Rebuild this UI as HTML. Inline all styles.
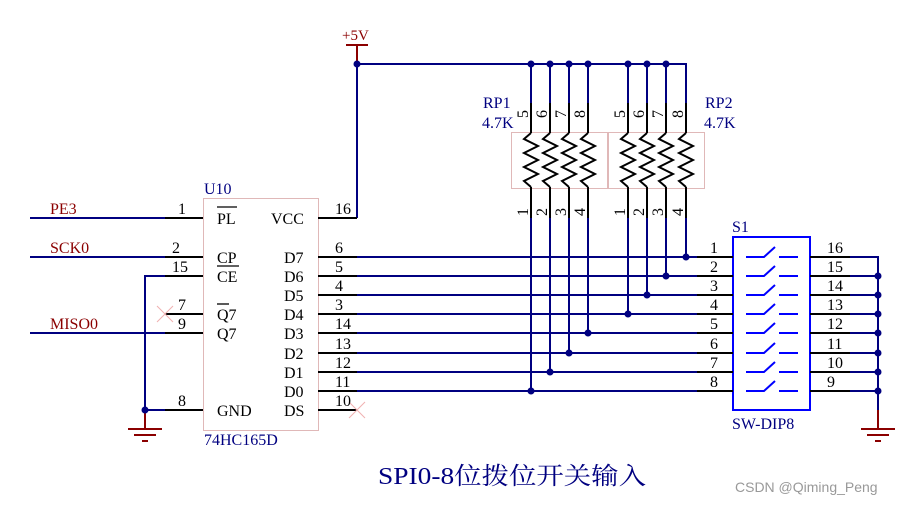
<!DOCTYPE html>
<html><head><meta charset="utf-8"><style>
html,body{margin:0;padding:0;background:#fff;}
svg{display:block;}
text{font-family:"Liberation Serif","Noto Serif CJK SC",serif;}
</style></head><body>
<svg width="911" height="505" viewBox="0 0 911 505" xmlns="http://www.w3.org/2000/svg">
<rect x="203.5" y="198.5" width="115" height="232" fill="none" stroke="#e0b8b8" stroke-width="1"/>
<g stroke="#000080" stroke-width="2" fill="none">
<line x1="30" y1="218" x2="165" y2="218"/>
<line x1="30" y1="257" x2="165" y2="257"/>
<line x1="30" y1="333" x2="165" y2="333"/>
<polyline points="165,276 145,276 145,410 165,410"/>
<polyline points="357,218 357,64 686,64 686,103"/>
</g>
<g stroke="#000" stroke-width="2">
<line x1="165" y1="218" x2="203" y2="218"/>
<line x1="165" y1="257" x2="203" y2="257"/>
<line x1="165" y1="276" x2="203" y2="276"/>
<line x1="165" y1="314" x2="203" y2="314"/>
<line x1="165" y1="333" x2="203" y2="333"/>
<line x1="165" y1="410" x2="203" y2="410"/>
<line x1="318" y1="218" x2="357" y2="218"/>
<line x1="318" y1="257" x2="357" y2="257"/>
<line x1="318" y1="276" x2="357" y2="276"/>
<line x1="318" y1="295" x2="357" y2="295"/>
<line x1="318" y1="314" x2="357" y2="314"/>
<line x1="318" y1="333" x2="357" y2="333"/>
<line x1="318" y1="353" x2="357" y2="353"/>
<line x1="318" y1="372" x2="357" y2="372"/>
<line x1="318" y1="391" x2="357" y2="391"/>
<line x1="318" y1="410" x2="357" y2="410"/>
</g>
<g stroke="#f0b0b0" stroke-width="1"><line x1="157" y1="306" x2="173" y2="322"/><line x1="157" y1="322" x2="173" y2="306"/>
<line x1="349" y1="402" x2="365" y2="418"/><line x1="349" y1="418" x2="365" y2="402"/></g>
<g stroke="#8b0000" stroke-width="2"><line x1="346" y1="45" x2="368" y2="45"/><line x1="357" y1="45" x2="357" y2="64"/>
<line x1="145" y1="410" x2="145" y2="429"/><line x1="128" y1="429" x2="162" y2="429"/><line x1="134" y1="435" x2="156" y2="435"/><line x1="142" y1="441" x2="148" y2="441"/>
<line x1="878" y1="410" x2="878" y2="429"/><line x1="861" y1="429" x2="895" y2="429"/><line x1="867" y1="435" x2="889" y2="435"/><line x1="875" y1="441" x2="881" y2="441"/></g>
<text x="342" y="40" font-size="15" fill="#8b0000">+5V</text>
<g stroke="#000080" stroke-width="2" fill="none">
<line x1="357" y1="257" x2="697" y2="257"/>
<line x1="357" y1="276" x2="697" y2="276"/>
<line x1="357" y1="295" x2="697" y2="295"/>
<line x1="357" y1="314" x2="697" y2="314"/>
<line x1="357" y1="333" x2="697" y2="333"/>
<line x1="357" y1="353" x2="697" y2="353"/>
<line x1="357" y1="372" x2="697" y2="372"/>
<line x1="357" y1="391" x2="697" y2="391"/>
<line x1="531" y1="64" x2="531" y2="103"/><line x1="531" y1="218" x2="531" y2="391"/>
<line x1="550" y1="64" x2="550" y2="103"/><line x1="550" y1="218" x2="550" y2="372"/>
<line x1="569" y1="64" x2="569" y2="103"/><line x1="569" y1="218" x2="569" y2="353"/>
<line x1="588" y1="64" x2="588" y2="103"/><line x1="588" y1="218" x2="588" y2="333"/>
<line x1="628" y1="64" x2="628" y2="103"/><line x1="628" y1="218" x2="628" y2="314"/>
<line x1="647" y1="64" x2="647" y2="103"/><line x1="647" y1="218" x2="647" y2="295"/>
<line x1="666" y1="64" x2="666" y2="103"/><line x1="666" y1="218" x2="666" y2="276"/>
<line x1="686" y1="218" x2="686" y2="257"/>
<polyline points="850,257 878,257 878,410"/>
<line x1="850" y1="276" x2="878" y2="276"/><line x1="850" y1="295" x2="878" y2="295"/>
<line x1="850" y1="314" x2="878" y2="314"/><line x1="850" y1="333" x2="878" y2="333"/>
<line x1="850" y1="353" x2="878" y2="353"/><line x1="850" y1="372" x2="878" y2="372"/>
<line x1="850" y1="391" x2="878" y2="391"/>
</g>
<rect x="511.5" y="132.5" width="96" height="56" fill="none" stroke="#e0b8b8"/>
<rect x="608.5" y="132.5" width="96" height="56" fill="none" stroke="#e0b8b8"/>
<g stroke="#000" stroke-width="2" fill="none">
<g transform="translate(531,0)"><line x1="0" y1="103" x2="0" y2="133"/><polyline points="0,133 -7,139 7,146 -7,153 7,160 -7,167 7,174 -7,181 0,187"/><line x1="0" y1="187" x2="0" y2="218"/></g>
<g transform="translate(550,0)"><line x1="0" y1="103" x2="0" y2="133"/><polyline points="0,133 -7,139 7,146 -7,153 7,160 -7,167 7,174 -7,181 0,187"/><line x1="0" y1="187" x2="0" y2="218"/></g>
<g transform="translate(569,0)"><line x1="0" y1="103" x2="0" y2="133"/><polyline points="0,133 -7,139 7,146 -7,153 7,160 -7,167 7,174 -7,181 0,187"/><line x1="0" y1="187" x2="0" y2="218"/></g>
<g transform="translate(588,0)"><line x1="0" y1="103" x2="0" y2="133"/><polyline points="0,133 -7,139 7,146 -7,153 7,160 -7,167 7,174 -7,181 0,187"/><line x1="0" y1="187" x2="0" y2="218"/></g>
<g transform="translate(628,0)"><line x1="0" y1="103" x2="0" y2="133"/><polyline points="0,133 -7,139 7,146 -7,153 7,160 -7,167 7,174 -7,181 0,187"/><line x1="0" y1="187" x2="0" y2="218"/></g>
<g transform="translate(647,0)"><line x1="0" y1="103" x2="0" y2="133"/><polyline points="0,133 -7,139 7,146 -7,153 7,160 -7,167 7,174 -7,181 0,187"/><line x1="0" y1="187" x2="0" y2="218"/></g>
<g transform="translate(666,0)"><line x1="0" y1="103" x2="0" y2="133"/><polyline points="0,133 -7,139 7,146 -7,153 7,160 -7,167 7,174 -7,181 0,187"/><line x1="0" y1="187" x2="0" y2="218"/></g>
<g transform="translate(686,0)"><line x1="0" y1="103" x2="0" y2="133"/><polyline points="0,133 -7,139 7,146 -7,153 7,160 -7,167 7,174 -7,181 0,187"/><line x1="0" y1="187" x2="0" y2="218"/></g>
</g>
<g font-size="16" fill="#000">
<text transform="translate(528,118) rotate(-90)">5</text><text transform="translate(547,118) rotate(-90)">6</text><text transform="translate(566,118) rotate(-90)">7</text><text transform="translate(585,118) rotate(-90)">8</text>
<text transform="translate(625,118) rotate(-90)">5</text><text transform="translate(644,118) rotate(-90)">6</text><text transform="translate(663,118) rotate(-90)">7</text><text transform="translate(683,118) rotate(-90)">8</text>
<text transform="translate(528,216) rotate(-90)">1</text><text transform="translate(547,216) rotate(-90)">2</text><text transform="translate(566,216) rotate(-90)">3</text><text transform="translate(585,216) rotate(-90)">4</text>
<text transform="translate(625,216) rotate(-90)">1</text><text transform="translate(644,216) rotate(-90)">2</text><text transform="translate(663,216) rotate(-90)">3</text><text transform="translate(683,216) rotate(-90)">4</text>
</g>
<g font-size="16" fill="#000080">
<text x="483" y="108">RP1</text><text x="482" y="128">4.7K</text>
<text x="705" y="108">RP2</text><text x="704" y="128">4.7K</text>
<text x="204" y="194">U10</text>
<text x="204" y="445">74HC165D</text>
<text x="732" y="232">S1</text>
<text x="732" y="429">SW-DIP8</text>
</g>
<g font-size="16" fill="#8b0000">
<text x="50" y="214">PE3</text><text x="50" y="253">SCK0</text><text x="50" y="329">MISO0</text>
</g>
<g font-size="16" fill="#000">
<text x="178" y="214">1</text><text x="172" y="253">2</text><text x="172" y="272">15</text><text x="178" y="310">7</text><text x="178" y="329">9</text><text x="178" y="406">8</text>
<text x="335" y="214">16</text><text x="335" y="253">6</text><text x="335" y="272">5</text><text x="335" y="291">4</text><text x="335" y="310">3</text><text x="335" y="329">14</text><text x="335" y="349">13</text><text x="335" y="368">12</text><text x="335" y="387">11</text><text x="335" y="406">10</text>
<text x="217" y="224">PL</text><text x="217" y="263">CP</text><text x="217" y="282">CE</text><text x="217" y="320">Q7</text><text x="217" y="339">Q7</text><text x="217" y="416">GND</text>
<text x="271" y="224">VCC</text><text x="284" y="263">D7</text><text x="284" y="282">D6</text><text x="284" y="301">D5</text><text x="284" y="320">D4</text><text x="284" y="339">D3</text><text x="284" y="359">D2</text><text x="284" y="378">D1</text><text x="284" y="397">D0</text><text x="284" y="416">DS</text>
</g>
<g stroke="#000" stroke-width="1.3"><line x1="217" y1="207" x2="237" y2="207"/><line x1="217" y1="266" x2="239" y2="266"/><line x1="217" y1="304" x2="229" y2="304"/></g>
<rect x="733" y="237" width="77" height="173" fill="none" stroke="#0000ff" stroke-width="2"/>
<g stroke="#000" stroke-width="2">
<line x1="697" y1="257" x2="733" y2="257"/><line x1="697" y1="276" x2="733" y2="276"/><line x1="697" y1="295" x2="733" y2="295"/><line x1="697" y1="314" x2="733" y2="314"/><line x1="697" y1="333" x2="733" y2="333"/><line x1="697" y1="353" x2="733" y2="353"/><line x1="697" y1="372" x2="733" y2="372"/><line x1="697" y1="391" x2="733" y2="391"/>
<line x1="810" y1="257" x2="850" y2="257"/><line x1="810" y1="276" x2="850" y2="276"/><line x1="810" y1="295" x2="850" y2="295"/><line x1="810" y1="314" x2="850" y2="314"/><line x1="810" y1="333" x2="850" y2="333"/><line x1="810" y1="353" x2="850" y2="353"/><line x1="810" y1="372" x2="850" y2="372"/><line x1="810" y1="391" x2="850" y2="391"/>
</g>
<g stroke="#0000ff" stroke-width="2" fill="none">
<path d="M746 257H764L775 247M779 257H798"/><path d="M746 276H764L775 266M779 276H798"/><path d="M746 295H764L775 285M779 295H798"/><path d="M746 314H764L775 304M779 314H798"/>
<path d="M746 333H764L775 323M779 333H798"/><path d="M746 353H764L775 343M779 353H798"/><path d="M746 372H764L775 362M779 372H798"/><path d="M746 391H764L775 381M779 391H798"/>
</g>
<g font-size="16" fill="#000">
<text x="710" y="253">1</text><text x="710" y="272">2</text><text x="710" y="291">3</text><text x="710" y="310">4</text><text x="710" y="329">5</text><text x="710" y="349">6</text><text x="710" y="368">7</text><text x="710" y="387">8</text>
<text x="827" y="253">16</text><text x="827" y="272">15</text><text x="827" y="291">14</text><text x="827" y="310">13</text><text x="827" y="329">12</text><text x="827" y="349">11</text><text x="827" y="368">10</text><text x="827" y="387">9</text>
</g>
<g fill="#000080">
<circle cx="357" cy="64" r="3.5"/><circle cx="531" cy="64" r="3.5"/><circle cx="550" cy="64" r="3.5"/><circle cx="569" cy="64" r="3.5"/><circle cx="588" cy="64" r="3.5"/><circle cx="628" cy="64" r="3.5"/><circle cx="647" cy="64" r="3.5"/><circle cx="666" cy="64" r="3.5"/>
<circle cx="686" cy="257" r="3.5"/><circle cx="666" cy="276" r="3.5"/><circle cx="647" cy="295" r="3.5"/><circle cx="628" cy="314" r="3.5"/><circle cx="588" cy="333" r="3.5"/><circle cx="569" cy="353" r="3.5"/><circle cx="550" cy="372" r="3.5"/><circle cx="531" cy="391" r="3.5"/>
<circle cx="145" cy="410" r="3.5"/>
<circle cx="878" cy="276" r="3.5"/><circle cx="878" cy="295" r="3.5"/><circle cx="878" cy="314" r="3.5"/><circle cx="878" cy="333" r="3.5"/><circle cx="878" cy="353" r="3.5"/><circle cx="878" cy="372" r="3.5"/><circle cx="878" cy="391" r="3.5"/>
</g>
<text x="378" y="484" font-size="24" fill="#000080" textLength="268" lengthAdjust="spacingAndGlyphs">SPI0-8位拨位开关输入</text>
<text x="735" y="492" font-size="14" fill="#999" style="font-family:'Liberation Sans',sans-serif">CSDN @Qiming_Peng</text>
</svg>
</body></html>
